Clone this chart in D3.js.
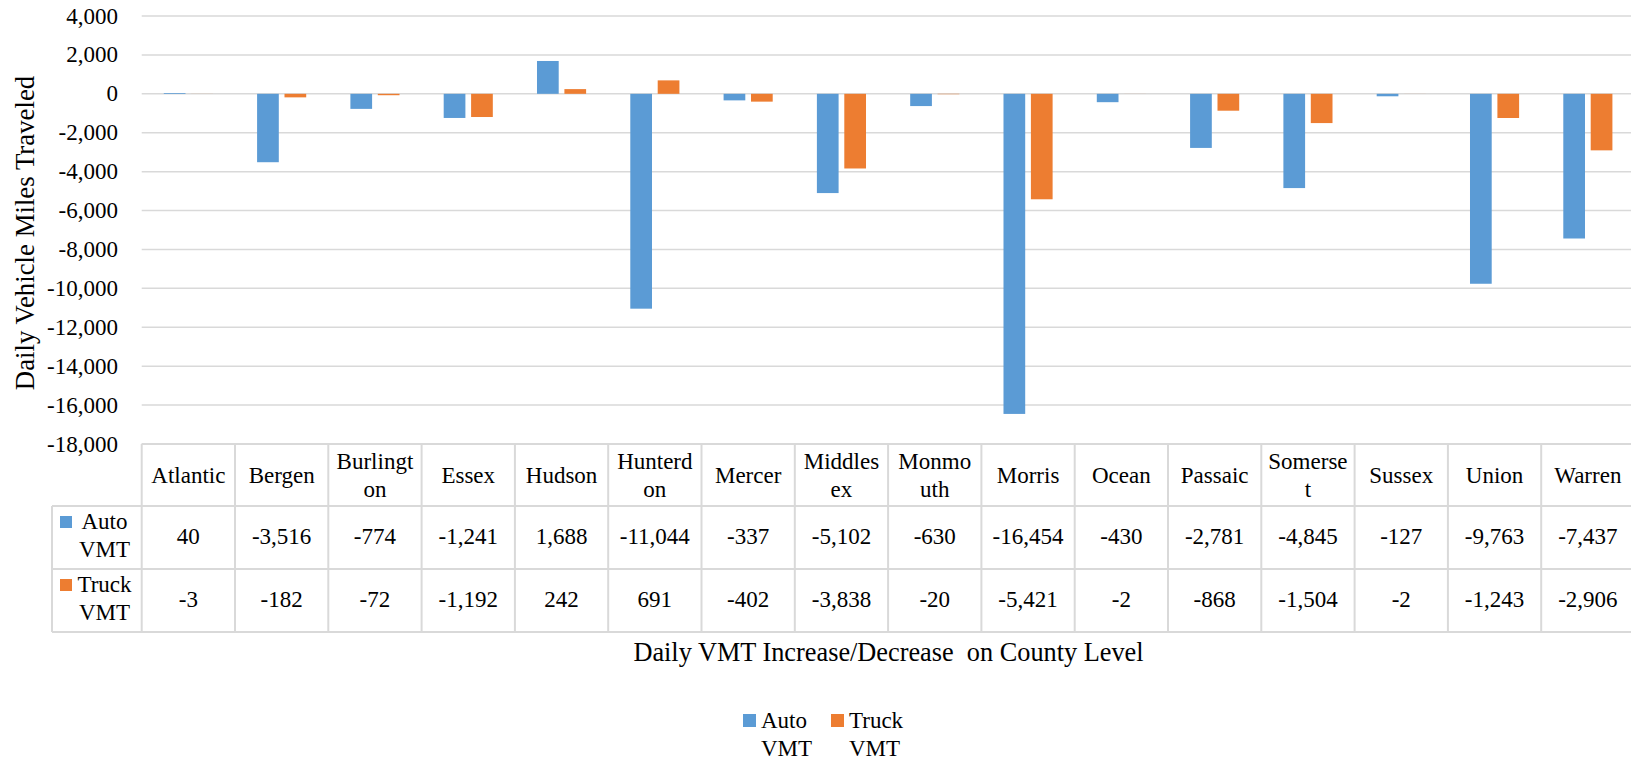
<!DOCTYPE html>
<html>
<head>
<meta charset="utf-8">
<script src="https://cdn.jsdelivr.net/npm/d3@7"></script>
</head>
<body style="margin:0">
<svg id="vmt" width="1631" height="762"></svg>
<script>
const counties = ["Atlantic", "Bergen", "Burlington", "Essex", "Hudson", "Hunterdon", "Mercer", "Middlesex",
    "Monmouth", "Morris", "Ocean", "Passaic", "Somerset", "Sussex", "Union", "Warren"];
// header labels as wrapped in the table
const countyLabels = ["Atlantic", "Bergen", "Burlingt\non", "Essex", "Hudson", "Hunterd\non", "Mercer", "Middles\nex",
    "Monmo\nuth", "Morris", "Ocean", "Passaic", "Somerse\nt", "Sussex", "Union", "Warren"];
const autoVMT = [40, -3516, -774, -1241, 1688, -11044, -337, -5102, -630, -16454, -430, -2781, -4845, -127, -9763, -7437];
const truckVMT = [-3, -182, -72, -1192, 242, 691, -402, -3838, -20, -5421, -2, -868, -1504, -2, -1243, -2906];
const seriesNames = ["Auto VMT", "Truck VMT"];
const yTicks = [4000, 2000, 0, -2000, -4000, -6000, -8000, -10000, -12000, -14000, -16000, -18000];

const colors = ["#5B9BD5", "#ED7D31"];
const gridColor = "#D9D9D9";
const FONT = "'Liberation Serif', 'Times New Roman', serif";
const fmt = d3.formatLocale({decimal: ".", thousands: ",", grouping: [3], currency: ["$", ""], minus: "-"}).format(",");

const svg = d3.select("#vmt");
const plotLeft = 141.7, colW = 93.3;
const plotTop = 16, plotBottom = 444;

const x = d3.scaleBand().domain(counties).range([plotLeft, plotLeft + colW * counties.length]);
const x1 = d3.scaleBand().domain(seriesNames).range([0, x.bandwidth()]).paddingInner(0.208).paddingOuter(0.806);
const y = d3.scaleLinear().domain([-18000, 4000]).range([plotBottom, plotTop]);

// gridlines
svg.append("g").selectAll("line").data(yTicks).join("line")
    .attr("x1", plotLeft).attr("x2", 1631)
    .attr("y1", d => y(d)).attr("y2", d => y(d))
    .attr("stroke", gridColor).attr("stroke-width", 1.5);

// y tick labels
svg.append("g").selectAll("text").data(yTicks).join("text")
    .attr("x", 118).attr("y", d => y(d))
    .attr("text-anchor", "end").attr("dominant-baseline", "central")
    .attr("font-size", 23)
    .text(d => fmt(d));

// y axis title
svg.append("text")
    .attr("transform", "translate(34,233) rotate(-90)")
    .attr("text-anchor", "middle")
    .attr("font-size", 26.8)
    .text("Daily Vehicle Miles Traveled");

// bars
const series = [autoVMT, truckVMT];
series.forEach((vals, si) => {
    svg.append("g").selectAll("rect").data(vals).join("rect")
        .attr("x", (d, i) => x(counties[i]) + x1(seriesNames[si]))
        .attr("width", x1.bandwidth())
        .attr("y", d => y(Math.max(0, d)))
        .attr("height", d => Math.abs(y(d) - y(0)))
        .attr("fill", colors[si]);
});

// data table
const rowTop = plotBottom, headH = 62, rowH = 63;
const legendLeft = 52;
const tblRight = plotLeft + colW * counties.length;
const tbl = svg.append("g");

// horizontal lines
tbl.append("line").attr("x1", plotLeft).attr("x2", tblRight).attr("y1", rowTop).attr("y2", rowTop)
    .attr("stroke", gridColor).attr("stroke-width", 2);
[rowTop + headH, rowTop + headH + rowH, rowTop + headH + 2 * rowH].forEach(yy => {
    tbl.append("line").attr("x1", legendLeft).attr("x2", tblRight).attr("y1", yy).attr("y2", yy)
        .attr("stroke", gridColor).attr("stroke-width", 2);
});
// vertical lines
tbl.append("line").attr("x1", legendLeft).attr("x2", legendLeft)
    .attr("y1", rowTop + headH).attr("y2", rowTop + headH + 2 * rowH)
    .attr("stroke", gridColor).attr("stroke-width", 2);
tbl.selectAll("line.v").data(counties.concat(["_end"])).join("line").attr("class", "v")
    .attr("x1", (d, i) => plotLeft + i * colW).attr("x2", (d, i) => plotLeft + i * colW)
    .attr("y1", rowTop).attr("y2", rowTop + headH + 2 * rowH)
    .attr("stroke", gridColor).attr("stroke-width", 2);

// header labels
countyLabels.forEach((lab, i) => {
    const lines = lab.split("\n");
    const cx = x(counties[i]) + x.bandwidth() / 2;
    const t = tbl.append("text").attr("text-anchor", "middle").attr("font-size", 23);
    const cy = rowTop + headH / 2 + 8 - (lines.length - 1) * 14;
    lines.forEach((ln, k) => {
        t.append("tspan").attr("x", cx).attr("y", cy + k * 28).text(ln);
    });
});

// value rows
series.forEach((vals, si) => {
    const yy = rowTop + headH + si * rowH + rowH / 2 + 6;
    tbl.append("g").selectAll("text").data(vals).join("text")
        .attr("x", (d, i) => x(counties[i]) + x.bandwidth() / 2)
        .attr("y", yy)
        .attr("text-anchor", "middle").attr("font-size", 23)
        .text(d => fmt(d));
    // legend cell
    const words = seriesNames[si].split(" ");
    const ty = rowTop + headH + si * rowH + 23;
    tbl.append("rect").attr("x", 60).attr("y", ty - 13).attr("width", 12).attr("height", 12).attr("fill", colors[si]);
    const t = tbl.append("text").attr("text-anchor", "middle").attr("font-size", 23);
    t.append("tspan").attr("x", 104.5).attr("y", ty).text(words[0]);
    t.append("tspan").attr("x", 104.5).attr("y", ty + 28).text(words[1]);
});

// x axis title
svg.append("text")
    .attr("x", 888.5).attr("y", 661)
    .attr("text-anchor", "middle").attr("font-size", 26.3)
    .attr("xml:space", "preserve")
    .text("Daily VMT Increase/Decrease  on County Level");

// legend
const lg = svg.append("g");
seriesNames.forEach((name, si) => {
    const lx = 743 + si * 88;
    lg.append("rect").attr("x", lx).attr("y", 714).attr("width", 13).attr("height", 13).attr("fill", colors[si]);
    const words = name.split(" ");
    const t = lg.append("text").attr("font-size", 23);
    t.append("tspan").attr("x", lx + 18).attr("y", 728).text(words[0]);
    t.append("tspan").attr("x", lx + 18).attr("y", 756).text(words[1]);
});

svg.selectAll("text").attr("font-family", FONT).attr("fill", "#000");
</script>
</body>
</html>
